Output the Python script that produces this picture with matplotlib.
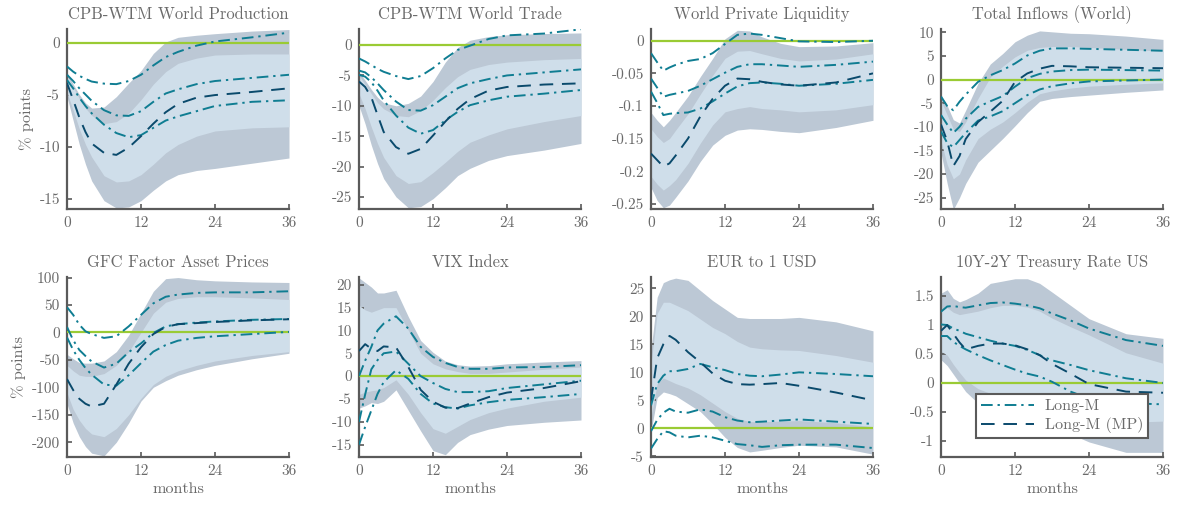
import matplotlib
matplotlib.use("Agg")
import matplotlib.pyplot as plt
from matplotlib.ticker import FixedLocator, FuncFormatter

plt.rcParams["font.family"] = ["cmr10", "DejaVu Serif"]
plt.rcParams["axes.unicode_minus"] = False
plt.rcParams["axes.formatter.use_mathtext"] = False

# horizon (months)
months = [0, 1, 2, 3, 4, 6, 8, 10, 12, 14, 16, 18, 21, 24, 30, 36]

titles = ["CPB-WTM World Production", "CPB-WTM World Trade", "World Private Liquidity",
          "Total Inflows (World)", "GFC Factor Asset Prices", "VIX Index",
          "EUR to 1 USD", "10Y-2Y Treasury Rate US"]

# --- CPB-WTM World Production
prod_lm_hi = [-2.3, -2.8, -3.2, -3.5, -3.75, -3.95, -4.0, -3.7, -3.1, -2.2, -1.4, -0.9, -0.3, 0.1, 0.5, 0.95]
prod_lm_med = [-3.1, -3.7, -4.4, -5.0, -5.6, -6.5, -7.0, -7.05, -6.6, -5.7, -4.9, -4.5, -4.0, -3.7, -3.4, -3.1]
prod_lm_lo = [-3.6, -4.4, -5.3, -6.1, -6.8, -7.9, -8.7, -9.1, -8.9, -8.2, -7.5, -7.1, -6.6, -6.1, -5.7, -5.55]
prod_mp = [-3.9, -5.5, -7.2, -8.6, -9.7, -10.6, -10.8, -10.1, -9.0, -7.8, -6.7, -5.9, -5.3, -5.05, -4.75, -4.4]
prod_b90_hi = [-2.9, -4.0, -5.0, -5.8, -6.3, -6.2, -5.2, -3.9, -2.7, -1.05, 0.05, 0.5, 0.7, 0.85, 1.1, 1.25]
prod_b68_hi = [-3.2, -4.3, -5.4, -6.3, -7.0, -7.8, -7.6, -6.8, -5.5, -4.0, -2.8, -2.0, -1.5, -1.2, -1.1, -1.1]
prod_b68_lo = [-4.8, -6.5, -8.3, -9.8, -11.0, -12.8, -13.4, -13.3, -12.7, -11.7, -10.6, -9.8, -9.0, -8.5, -8.2, -8.1]
prod_b90_lo = [-5.2, -7.5, -9.8, -11.7, -13.3, -15.2, -15.9, -15.8, -15.2, -14.2, -13.3, -12.7, -12.3, -12.1, -11.6, -11.1]

# --- CPB-WTM World Trade
trade_lm_hi = [-2.2, -2.7, -3.3, -3.9, -4.4, -5.1, -5.6, -5.1, -3.8, -2.2, -0.8, -0.1, 1.0, 1.6, 1.9, 2.6]
trade_lm_med = [-4.2, -4.5, -5.3, -6.3, -7.4, -9.3, -10.7, -10.8, -9.9, -8.5, -7.1, -6.3, -5.6, -5.0, -4.5, -4.0]
trade_lm_lo = [-4.9, -5.2, -6.1, -7.5, -9.1, -11.6, -13.6, -14.6, -14.0, -12.4, -11.0, -9.9, -9.1, -8.5, -8.0, -7.4]
trade_mp = [-6.0, -6.9, -8.6, -11.5, -14.3, -16.8, -17.9, -17.1, -14.9, -12.6, -10.5, -8.9, -7.5, -6.9, -6.5, -6.3]
trade_b90_hi = [-4.5, -5.8, -7.3, -8.6, -9.5, -10.0, -9.6, -8.4, -6.0, -2.8, -0.4, 0.8, 1.4, 1.7, 1.9, 2.0]
trade_b68_hi = [-5.0, -6.5, -8.0, -9.5, -10.5, -11.6, -11.8, -10.8, -9.1, -7.0, -5.2, -4.0, -3.2, -2.8, -2.4, -2.2]
trade_b68_lo = [-8.0, -10.5, -13.5, -16.2, -18.5, -21.5, -22.8, -22.5, -21.0, -19.3, -17.5, -16.0, -14.8, -13.8, -12.6, -11.6]
trade_b90_lo = [-10.0, -13.0, -16.5, -19.5, -22.0, -25.0, -26.8, -26.6, -25.3, -23.5, -21.5, -20.3, -19.0, -18.2, -17.3, -16.2]

# --- World Private Liquidity
liq_lm_hi = [-0.019, -0.033, -0.046, -0.041, -0.037, -0.031, -0.028, -0.019, -0.005, 0.009, 0.011, 0.009, 0.004, -0.001, -0.002, 0.0]
liq_lm_med = [-0.058, -0.072, -0.086, -0.083, -0.081, -0.077, -0.069, -0.059, -0.049, -0.040, -0.036, -0.036, -0.038, -0.040, -0.037, -0.032]
liq_lm_lo = [-0.078, -0.095, -0.114, -0.112, -0.111, -0.110, -0.104, -0.093, -0.081, -0.070, -0.065, -0.064, -0.066, -0.069, -0.066, -0.060]
liq_mp = [-0.173, -0.183, -0.193, -0.188, -0.176, -0.150, -0.116, -0.089, -0.069, -0.058, -0.059, -0.063, -0.067, -0.069, -0.064, -0.050]
liq_b90_hi = [-0.110, -0.122, -0.132, -0.122, -0.110, -0.085, -0.055, -0.027, 0.003, 0.016, 0.015, 0.006, -0.004, -0.009, -0.008, -0.003]
liq_b68_hi = [-0.135, -0.147, -0.156, -0.150, -0.137, -0.112, -0.082, -0.053, -0.027, -0.016, -0.015, -0.020, -0.027, -0.031, -0.028, -0.020]
liq_b68_lo = [-0.208, -0.220, -0.229, -0.222, -0.213, -0.188, -0.157, -0.129, -0.109, -0.104, -0.101, -0.104, -0.106, -0.109, -0.106, -0.098]
liq_b90_lo = [-0.225, -0.245, -0.256, -0.252, -0.240, -0.215, -0.185, -0.160, -0.145, -0.137, -0.135, -0.136, -0.139, -0.141, -0.133, -0.122]

# --- Total Inflows (World)
infl_lm_hi = [-3.6, -5.6, -6.5, -4.7, -3.2, -0.5, 0.9, 2.0, 3.4, 5.1, 6.1, 6.6, 6.6, 6.5, 6.3, 6.1]
infl_lm_med = [-7.5, -9.5, -11.3, -10.0, -8.3, -5.8, -4.6, -3.5, -1.5, 0.3, 1.2, 1.7, 2.0, 2.1, 2.0, 1.9]
infl_lm_lo = [-11.0, -13.4, -14.3, -12.8, -11.3, -8.7, -7.8, -6.7, -5.0, -3.3, -2.1, -1.4, -0.8, -0.4, -0.2, 0.0]
infl_mp = [-9.5, -13.0, -18.3, -16.2, -12.6, -9.0, -6.8, -4.5, -0.5, 1.3, 2.3, 2.9, 2.8, 2.6, 2.5, 2.4]
infl_b90_hi = [-3.2, -5.5, -8.5, -9.2, -6.5, -0.8, 3.3, 5.5, 8.0, 9.4, 10.3, 10.1, 9.8, 9.7, 9.2, 8.5]
infl_b68_hi = [-4.5, -7.5, -10.5, -11.0, -9.0, -4.0, 0.5, 2.8, 4.8, 6.2, 6.8, 7.0, 7.0, 6.8, 6.4, 6.0]
infl_b68_lo = [-13.0, -18.0, -21.0, -20.0, -17.0, -12.5, -10.5, -9.0, -7.0, -4.8, -3.0, -2.4, -1.8, -1.4, -1.0, -0.7]
infl_b90_lo = [-15.5, -22.0, -27.5, -25.0, -22.0, -17.5, -15.0, -12.5, -9.8, -7.0, -4.6, -4.0, -3.6, -3.3, -2.7, -2.2]

# --- GFC Factor Asset Prices
gfc_lm_hi = [46, 32, 14, 2, -3, -10, -7, 11, 32, 53, 65, 69, 72, 73, 73, 75]
gfc_lm_med = [10, -14, -32, -43, -53, -64, -57, -36, -20, -1, 11, 15, 18, 20, 23, 24.5]
gfc_lm_lo = [-9, -32, -50, -65, -77, -95, -97, -78, -56, -35, -23, -15, -10, -7, -3, 1]
gfc_mp = [-85, -105, -121, -130, -135, -130, -95, -57, -27, -3, 10, 15, 17, 19, 22, 24]
gfc_b90_hi = [-40, -48, -55, -56, -56, -52, -35, -5, 35, 75, 98, 100, 96, 94, 92, 91]
gfc_b68_hi = [-60, -70, -78, -80, -80, -75, -60, -35, 0, 35, 55, 62, 65, 65, 63, 60]
gfc_b68_lo = [-110, -140, -160, -175, -185, -190, -175, -150, -120, -95, -80, -70, -60, -52, -42, -35]
gfc_b90_lo = [-130, -165, -190, -208, -220, -225, -200, -165, -125, -100, -88, -78, -68, -60, -48, -38]

# --- VIX Index
vix_lm_hi = [0, 3.4, 6.4, 10.0, 11.5, 13.1, 10.4, 6.4, 4.2, 2.9, 2.0, 1.6, 1.6, 1.9, 2.0, 2.4]
vix_lm_med = [-10, -4, 1.5, 3.5, 5.0, 5.4, 2.7, 0, -1.5, -2.8, -3.5, -3.5, -3.3, -2.6, -1.8, -1.0]
vix_lm_lo = [-15, -11.1, -7.5, -3.9, -1.3, 1.3, -0.6, -3.9, -6.0, -6.8, -7.1, -6.4, -5.7, -5.2, -4.6, -3.9]
vix_mp = [5.5, 7.0, 6.0, 5.5, 6.5, 6.3, 2.0, -3.0, -5.6, -6.9, -7.0, -6.0, -4.6, -3.6, -2.6, -1.1]
vix_b90_hi = [21.5, 20.5, 19.5, 18.2, 18.2, 18.8, 13.0, 7.8, 5.2, 3.3, 2.5, 2.2, 2.3, 2.7, 3.1, 3.4]
vix_b68_hi = [15.5, 14.5, 14.0, 14.5, 15.0, 15.0, 10.0, 5.0, 2.7, 1.6, 1.0, 0.6, 0.6, 0.9, 1.5, 2.0]
vix_b68_lo = [-4.0, -3.5, -3.2, -3.0, -2.5, -0.8, -4.0, -8.0, -11.5, -12.5, -11.0, -9.5, -8.0, -7.0, -5.5, -4.6]
vix_b90_lo = [-7.0, -6.5, -5.8, -6.0, -5.5, -3.0, -7.5, -12.0, -16.3, -17.2, -14.5, -12.8, -11.6, -10.8, -10.1, -9.6]

# --- EUR to 1 USD
eur_lm_hi = [4.1, 7.9, 9.4, 10.2, 10.2, 10.6, 11.5, 10.9, 10.4, 9.7, 9.4, 9.3, 9.6, 10.0, 9.7, 9.3]
eur_lm_med = [-0.5, 1.5, 2.8, 3.5, 3.0, 2.8, 3.4, 3.0, 2.0, 1.4, 1.1, 1.2, 1.4, 1.6, 1.2, 0.8]
eur_lm_lo = [-3.6, -1.9, -0.5, -0.7, -1.3, -1.6, -1.3, -1.6, -2.2, -2.8, -3.0, -3.3, -3.0, -2.9, -2.9, -3.5]
eur_mp = [5.0, 12.5, 15.0, 16.5, 15.8, 13.6, 11.8, 9.8, 8.5, 7.9, 7.8, 7.9, 8.1, 7.6, 6.4, 5.0]
eur_b90_hi = [14.0, 23.4, 26.0, 26.5, 26.8, 26.4, 24.6, 22.8, 21.3, 19.8, 19.6, 19.6, 19.6, 19.8, 19.0, 17.4]
eur_b68_hi = [11.5, 20.5, 22.5, 22.5, 22.0, 21.0, 19.5, 18.0, 16.9, 15.5, 14.5, 14.2, 14.0, 13.9, 13.0, 11.8]
eur_b68_lo = [2.0, 8.0, 9.0, 8.5, 8.0, 7.2, 6.0, 4.5, 3.0, 1.8, 1.2, 1.2, 1.3, 1.4, 1.0, 0.3]
eur_b90_lo = [-0.5, 5.5, 6.5, 6.2, 5.8, 4.4, 3.0, 0.8, -1.6, -3.4, -4.2, -3.9, -3.4, -3.0, -3.3, -4.6]

# --- 10Y-2Y Treasury Rate US
term_lm_hi = [1.23, 1.32, 1.33, 1.31, 1.30, 1.34, 1.38, 1.39, 1.37, 1.34, 1.29, 1.20, 1.08, 0.94, 0.74, 0.64]
term_lm_med = [1.01, 1.0, 0.94, 0.90, 0.85, 0.79, 0.73, 0.68, 0.64, 0.57, 0.48, 0.39, 0.31, 0.22, 0.08, 0.0]
term_lm_lo = [0.81, 0.81, 0.71, 0.64, 0.58, 0.48, 0.39, 0.31, 0.23, 0.16, 0.11, 0.02, -0.15, -0.27, -0.35, -0.37]
term_mp = [0.90, 1.0, 0.85, 0.70, 0.58, 0.64, 0.68, 0.68, 0.65, 0.58, 0.48, 0.33, 0.16, -0.02, -0.15, -0.17]
term_b90_hi = [1.55, 1.61, 1.46, 1.40, 1.44, 1.55, 1.72, 1.76, 1.80, 1.80, 1.72, 1.57, 1.34, 1.11, 0.85, 0.77]
term_b68_hi = [1.25, 1.30, 1.22, 1.18, 1.20, 1.24, 1.30, 1.34, 1.34, 1.31, 1.24, 1.12, 0.97, 0.83, 0.52, 0.34]
term_b68_lo = [0.55, 0.48, 0.32, 0.18, 0.05, -0.10, -0.18, -0.22, -0.25, -0.28, -0.30, -0.35, -0.45, -0.55, -0.68, -0.66]
term_b90_lo = [0.40, 0.30, 0.15, 0.0, -0.15, -0.35, -0.42, -0.45, -0.47, -0.52, -0.62, -0.73, -0.88, -1.02, -1.20, -1.20]

y_ticks = [
    [-15, -10, -5, 0],
    [-25, -20, -15, -10, -5, 0],
    [-0.25, -0.2, -0.15, -0.1, -0.05, 0],
    [-25, -20, -15, -10, -5, 0, 5, 10],
    [-200, -150, -100, -50, 0, 50, 100],
    [-15, -10, -5, 0, 5, 10, 15, 20],
    [-5, 0, 5, 10, 15, 20, 25],
    [-1, -0.5, 0, 0.5, 1, 1.5],
]
y_limits = [(-16, 1.3), (-27, 2.65), (-0.258, 0.018), (-27.4, 10.7),
            (-227, 101), (-17.7, 21.7), (-5.1, 27), (-1.28, 1.83)]
x_ticks = [0, 12, 24, 36]

panels = [
    (prod_lm_hi, prod_lm_med, prod_lm_lo, prod_mp, prod_b90_hi, prod_b68_hi, prod_b68_lo, prod_b90_lo),
    (trade_lm_hi, trade_lm_med, trade_lm_lo, trade_mp, trade_b90_hi, trade_b68_hi, trade_b68_lo, trade_b90_lo),
    (liq_lm_hi, liq_lm_med, liq_lm_lo, liq_mp, liq_b90_hi, liq_b68_hi, liq_b68_lo, liq_b90_lo),
    (infl_lm_hi, infl_lm_med, infl_lm_lo, infl_mp, infl_b90_hi, infl_b68_hi, infl_b68_lo, infl_b90_lo),
    (gfc_lm_hi, gfc_lm_med, gfc_lm_lo, gfc_mp, gfc_b90_hi, gfc_b68_hi, gfc_b68_lo, gfc_b90_lo),
    (vix_lm_hi, vix_lm_med, vix_lm_lo, vix_mp, vix_b90_hi, vix_b68_hi, vix_b68_lo, vix_b90_lo),
    (eur_lm_hi, eur_lm_med, eur_lm_lo, eur_mp, eur_b90_hi, eur_b68_hi, eur_b68_lo, eur_b90_lo),
    (term_lm_hi, term_lm_med, term_lm_lo, term_mp, term_b90_hi, term_b68_hi, term_b68_lo, term_b90_lo),
]

C_OUTER = "#bcc8d5"
C_INNER = "#cfdeea"
C_LM = "#0f7d92"
C_MP = "#0a4a6c"
C_ZERO = "#9acb34"
C_AX = "#5a5a5a"
C_TXT = "#6a6a6a"

W, H = 1177, 505
fig = plt.figure(figsize=(W / 100, H / 100), dpi=100)
lefts = [67, 359, 651, 941]
tops = [29, 277]
aw, ah = 222, 180


def fmt(v, _pos=None):
    return f"{v:g}"


handles = None
for i, (title, data) in enumerate(zip(titles, panels)):
    r, c = divmod(i, 4)
    ax = fig.add_axes([lefts[c] / W, 1 - (tops[r] + ah) / H, aw / W, ah / H])
    lm_hi, lm_med, lm_lo, mp, b90_hi, b68_hi, b68_lo, b90_lo = data

    ax.fill_between(months, b90_lo, b90_hi, color=C_OUTER, lw=0, zorder=1)
    ax.fill_between(months, b68_lo, b68_hi, color=C_INNER, lw=0, zorder=2)
    ax.axhline(0, color=C_ZERO, lw=1.6, zorder=3)
    l1 = None
    for s in (lm_hi, lm_med, lm_lo):
        l1, = ax.plot(months, s, color=C_LM, lw=1.4, dashes=(6, 2.5, 1.2, 2.5), zorder=4)
    l2, = ax.plot(months, mp, color=C_MP, lw=1.4, dashes=(7, 4.5), zorder=5)
    handles = (l1, l2)

    ax.set_xlim(0, 36)
    ax.set_ylim(*y_limits[i])
    ax.xaxis.set_major_locator(FixedLocator(x_ticks))
    ax.yaxis.set_major_locator(FixedLocator(y_ticks[i]))
    ax.yaxis.set_major_formatter(FuncFormatter(fmt))
    ax.xaxis.set_major_formatter(FuncFormatter(fmt))
    for side in ("top", "right"):
        ax.spines[side].set_visible(False)
    for side in ("left", "bottom"):
        ax.spines[side].set_color(C_AX)
        ax.spines[side].set_linewidth(1.6)
    ax.tick_params(direction="in", length=3.5, width=1.2, color=C_AX,
                   labelsize=11, labelcolor=C_TXT, pad=5)
    ax.set_title(title, fontsize=11.9, color=C_TXT, pad=7)
    if c == 0:
        ax.set_ylabel("% points", fontsize=11.7, color=C_TXT, labelpad=4)
    if r == 1:
        ax.set_xlabel("months", fontsize=11.7, color=C_TXT, labelpad=3)
    if i == 7:
        leg = ax.legend(handles, ["Long-M", "Long-M (MP)"], loc="lower left",
                        bbox_to_anchor=(0.158, 0.106), fontsize=11.5, frameon=True,
                        fancybox=False, handlelength=3.3, handletextpad=0.7,
                        labelspacing=0.25, borderpad=0.3, borderaxespad=0)
        leg.get_frame().set_edgecolor(C_AX)
        leg.get_frame().set_linewidth(1.5)
        leg.get_frame().set_facecolor("white")
        leg.get_frame().set_alpha(1)
        for t in leg.get_texts():
            t.set_color(C_TXT)
        leg.set_zorder(10)

fig.savefig("out.png", dpi=100)
